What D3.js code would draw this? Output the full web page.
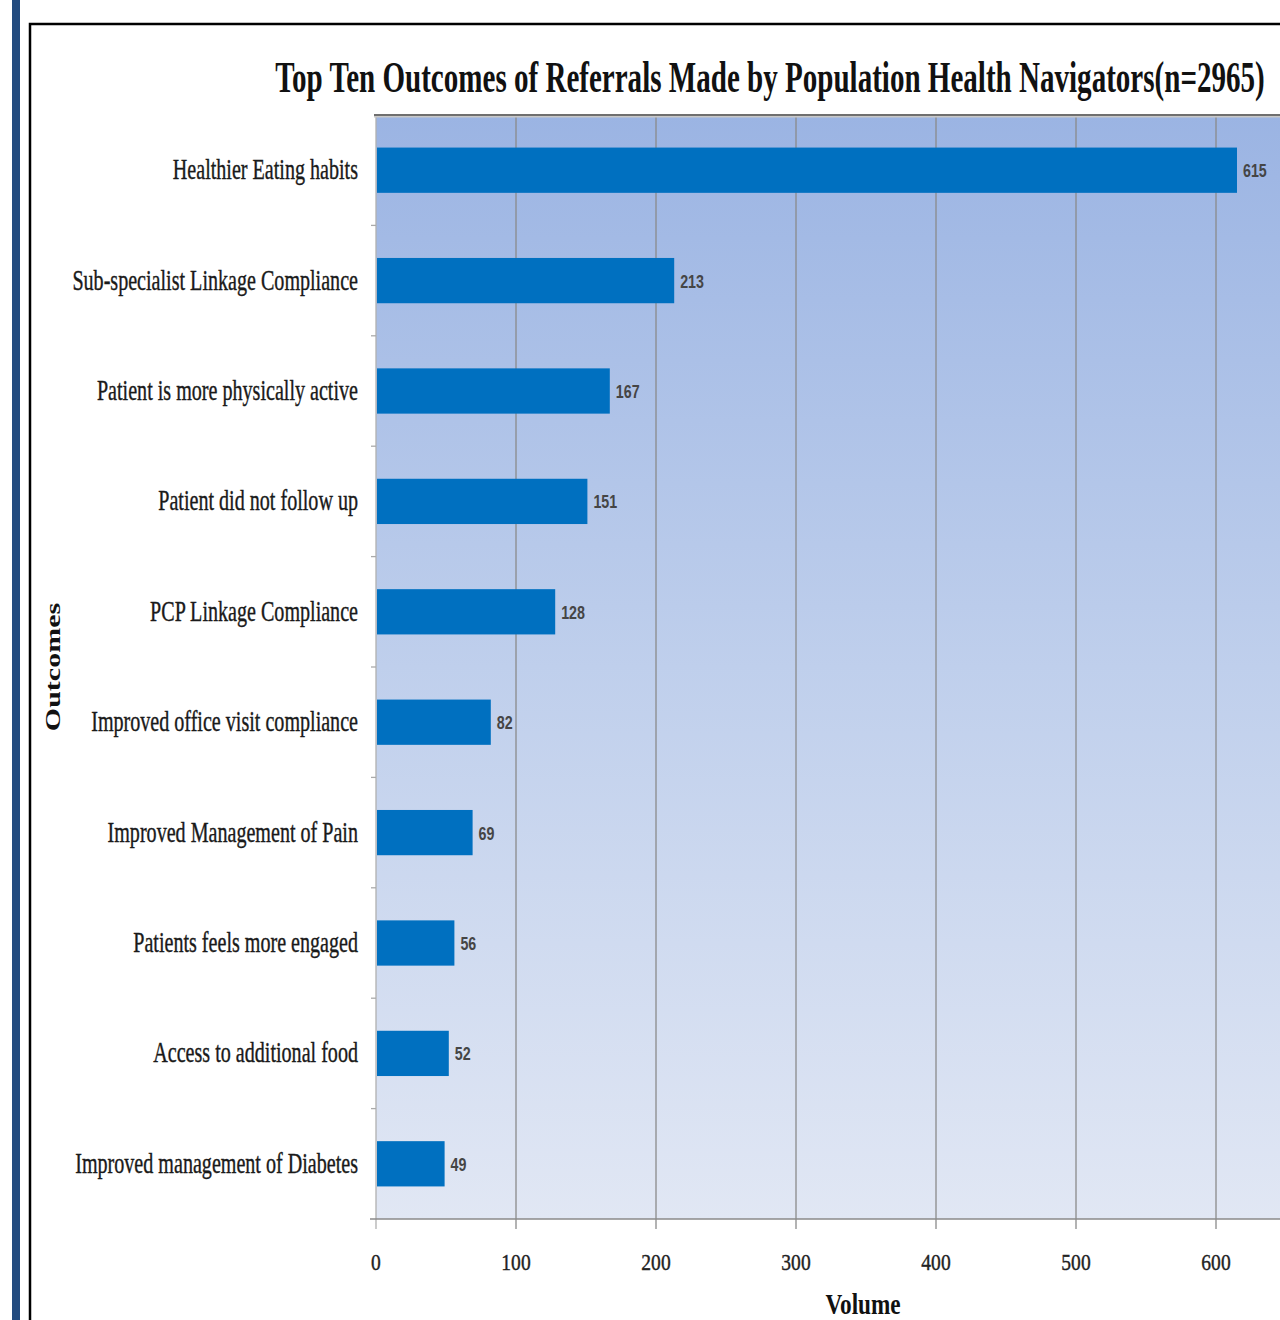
<!DOCTYPE html>
<html>
<head>
<meta charset="utf-8">
<script src="https://cdn.jsdelivr.net/npm/d3@7"></script>
<style>
  body { margin: 0; background: #fff; }
  svg { display: block; }
</style>
</head>
<body>
<div id="chart"></div>
<script>
// data
var outcomes = [
    "Healthier Eating habits",
    "Sub-specialist Linkage Compliance",
    "Patient is more physically active",
    "Patient did not follow up",
    "PCP Linkage Compliance",
    "Improved office visit compliance",
    "Improved Management of Pain",
    "Patients feels more engaged",
    "Access to additional food",
    "Improved management of Diabetes"];

var volumes = [615, 213, 167, 151, 128, 82, 69, 56, 52, 49];

var xTicks = [0, 100, 200, 300, 400, 500, 600];

var title = "Top Ten Outcomes of Referrals Made by Population Health Navigators(n=2965)";

var data = outcomes.map(function (d, i) {
    return {name: d, value: volumes[i]};
});

var width = 1280,
    height = 1320;

// plot box (note: "top" is reserved on window, so prefixed names)
var plotLeft = 376,
    plotTop = 115,
    plotBottom = 1219,
    plotRight = 1356;

var serif = "'Liberation Serif', 'DejaVu Serif', serif";

var svg = d3.select("#chart")
    .append("svg")
    .attr("width", width)
    .attr("height", height);

var defs = svg.append("defs");
var grad = defs.append("linearGradient")
    .attr("id", "bg")
    .attr("x1", 0).attr("y1", 0)
    .attr("x2", 0).attr("y2", 1);
grad.append("stop").attr("offset", "0%").attr("stop-color", "#9bb4e3");
grad.append("stop").attr("offset", "50%").attr("stop-color", "#bfcfec");
grad.append("stop").attr("offset", "100%").attr("stop-color", "#e1e7f4");

// left blue strip and frame
svg.append("rect")
    .attr("x", 12).attr("y", 0)
    .attr("width", 8).attr("height", height)
    .attr("fill", "#234b7f");

svg.append("rect")
    .attr("x", 30).attr("y", 24)
    .attr("width", 1300).attr("height", 1400)
    .attr("fill", "#fff")
    .attr("stroke", "#000")
    .attr("stroke-width", 2.5);

var x = d3.scaleLinear()
    .domain([0, 700])
    .range([plotLeft, plotRight]);

var y = d3.scaleBand()
    .domain(outcomes)
    .range([plotTop, plotBottom])
    .paddingInner(0.59)
    .paddingOuter(0.295);

// plot background
svg.append("rect")
    .attr("x", plotLeft).attr("y", plotTop)
    .attr("width", plotRight - plotLeft).attr("height", plotBottom - plotTop)
    .attr("fill", "url(#bg)");

// grid lines (run down into tick marks)
svg.append("g")
    .selectAll("line")
    .data(xTicks)
    .enter().append("line")
    .attr("x1", function (d) { return x(d); })
    .attr("x2", function (d) { return x(d); })
    .attr("y1", plotTop)
    .attr("y2", plotBottom + 10)
    .attr("stroke", function (d) { return d === 0 ? "#b0b0b0" : "#8a8a8a"; })
    .attr("stroke-width", 1.3);

// top border with soft shadow
svg.append("line")
    .attr("x1", plotLeft - 2).attr("x2", plotRight)
    .attr("y1", plotTop + 1.5).attr("y2", plotTop + 1.5)
    .attr("stroke", "#c8c8c8").attr("stroke-width", 2);
svg.append("line")
    .attr("x1", plotLeft - 2).attr("x2", plotRight)
    .attr("y1", plotTop).attr("y2", plotTop)
    .attr("stroke", "#6f6f6f").attr("stroke-width", 2);

// category tick marks at band edges
var step = y.step();
svg.append("g")
    .selectAll("line")
    .data(outcomes.slice(1))
    .enter().append("line")
    .attr("x1", plotLeft - 5).attr("x2", plotLeft)
    .attr("y1", function (d) { return y(d) - step * y.paddingInner() / 2; })
    .attr("y2", function (d) { return y(d) - step * y.paddingInner() / 2; })
    .attr("stroke", "#aaa")
    .attr("stroke-width", 1.3);

// bottom axis line
svg.append("line")
    .attr("x1", plotLeft - 6).attr("x2", plotRight)
    .attr("y1", plotBottom).attr("y2", plotBottom)
    .attr("stroke", "#8a8a8a")
    .attr("stroke-width", 1.6);

// bars
var g = svg.append("g");
g.selectAll("rect")
    .data(data)
    .enter().append("rect")
    .attr("x", x(0) + 1)
    .attr("y", function (d) { return y(d.name); })
    .attr("width", function (d) { return x(d.value) - x(0) - 1; })
    .attr("height", y.bandwidth())
    .attr("fill", "#0070c0");

// value labels
g.selectAll("text")
    .data(data)
    .enter().append("text")
    .attr("transform", function (d) {
        return "translate(" + (x(d.value) + 6) + "," + (y(d.name) + y.bandwidth() / 2 + 7) + ") scale(0.75,1)";
    })
    .style("font-family", "'Liberation Sans', Arial, sans-serif")
    .style("font-size", "19px")
    .style("font-weight", "bold")
    .style("fill", "#454545")
    .text(function (d) { return d.value; });

// category labels
svg.append("g")
    .selectAll("text")
    .data(outcomes)
    .enter().append("text")
    .attr("transform", function (d) {
        return "translate(358," + (y(d) + y.bandwidth() / 2 + 9) + ") scale(0.67,1)";
    })
    .attr("text-anchor", "end")
    .style("font-family", serif)
    .style("font-size", "30px")
    .style("fill", "#1a1a1a")
    .style("stroke", "#1a1a1a")
    .style("stroke-width", 0.4)
    .text(function (d) { return d; });

// x tick labels
svg.append("g")
    .selectAll("text")
    .data(xTicks)
    .enter().append("text")
    .attr("transform", function (d) {
        return "translate(" + x(d) + ",1270) scale(0.85,1)";
    })
    .attr("text-anchor", "middle")
    .style("font-family", serif)
    .style("font-size", "23px")
    .style("fill", "#222")
    .style("stroke", "#222")
    .style("stroke-width", 0.4)
    .text(function (d) { return d; });

// axis titles
svg.append("text")
    .attr("transform", "translate(863,1314) scale(0.8,1)")
    .attr("text-anchor", "middle")
    .style("font-family", serif)
    .style("font-size", "29px")
    .style("font-weight", "bold")
    .style("fill", "#111")
    .text("Volume");

svg.append("text")
    .attr("transform", "translate(60,667) rotate(-90) scale(1.5,1)")
    .attr("text-anchor", "middle")
    .style("font-family", serif)
    .style("font-size", "20px")
    .style("font-weight", "bold")
    .style("fill", "#111")
    .text("Outcomes");

// chart title, squeezed horizontally to the width it has in the picture
var titleWidth = 990;
var titleText = svg.append("text")
    .attr("text-anchor", "middle")
    .style("font-family", serif)
    .style("font-size", "44px")
    .style("font-weight", "bold")
    .style("fill", "#111")
    .text(title);
var sx = titleWidth / titleText.node().getComputedTextLength();
titleText.attr("transform", "translate(770,92) scale(" + sx + ",1)");
</script>
</body>
</html>
